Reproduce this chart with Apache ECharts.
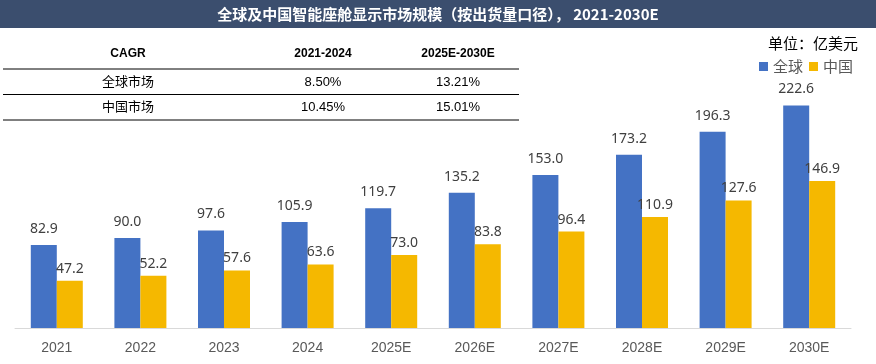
<!DOCTYPE html>
<html><head><meta charset="utf-8">
<script src="https://cdn.jsdelivr.net/npm/echarts@6/dist/echarts.min.js"></script>
<style>html,body{margin:0;padding:0;background:#fff}#c{width:876px;height:364px}</style>
</head><body><div id="c"></div>
<script>
const categories = ['2021','2022','2023','2024','2025E','2026E','2027E','2028E','2029E','2030E'];
const globalValues = [82.9, 90.0, 97.6, 105.9, 119.7, 135.2, 153.0, 173.2, 196.3, 222.6];
const chinaValues = [47.2, 52.2, 57.6, 63.6, 73.0, 83.8, 96.4, 110.9, 127.6, 146.9];
const seriesNames = ['全球', '中国'];
const titleText = '全球及中国智能座舱显示市场规模（按出货量口径）， 2021-2030E';
const unitText = '单位：亿美元';
const tableHeader = ['CAGR', '2021-2024', '2025E-2030E'];
const tableRows = [
  ['全球市场', '8.50%', '13.21%'],
  ['中国市场', '10.45%', '15.01%']
];

const CJK = '"Noto Sans CJK SC", "Noto Sans", sans-serif';
const TBL = '"Liberation Sans", "Noto Sans CJK SC", sans-serif';
const chart = echarts.init(document.getElementById('c'));

const colX = [128, 323, 458];
const rowY = [54, 82, 107];
const graphics = [
  {type:'rect', left:0, top:0, shape:{width:876, height:28}, style:{fill:'#3b4e6e'}},
  {type:'text', x:438, y:14, style:{text:titleText, fill:'#fff', font:'bold 15px ' + CJK, textAlign:'center', textVerticalAlign:'middle'}},
];
[69, 94.5, 120].forEach(y => graphics.push({type:'line', shape:{x1:3, y1:y, x2:519, y2:y}, style:{stroke:'#000', lineWidth:1}}));
tableHeader.forEach((t, i) => graphics.push({type:'text', x:colX[i], y:rowY[0], style:{text:t, fill:'#000', font:'bold 12px "Liberation Sans", Arial, sans-serif', textAlign:'center', textVerticalAlign:'middle'}}));
tableRows.forEach((row, r) => row.forEach((t, i) => graphics.push({type:'text', x:colX[i], y:rowY[r+1], style:{text:t, fill:'#000', font:'13px ' + TBL, textAlign:'center', textVerticalAlign:'middle'}})));
graphics.push({type:'text', x:858, y:43, style:{text:unitText, fill:'#000', font:'15px ' + CJK, textAlign:'right', textVerticalAlign:'middle'}});

chart.setOption({
  animation:false,
  graphic: graphics,
  legend: {
    data: seriesNames, right: 18, top: 54, itemWidth: 9, itemHeight: 9, itemGap: 6,
    icon: 'rect', textStyle: {color:'#595959', fontSize:15, fontFamily: CJK}
  },
  grid: {left: 15, width: 836, top: 28, height: 300, containLabel: false},
  xAxis: {
    type:'category', data: categories,
    axisLine: {lineStyle:{color:'#d9d9d9'}}, axisTick:{show:false},
    axisLabel: {color:'#595959', fontSize:14, margin:13, fontFamily:'"Liberation Sans Narrow", "Liberation Sans", sans-serif'}
  },
  yAxis: {type:'value', min:0, max:300, show:false, splitLine:{show:false}},
  series: [
    {name: seriesNames[0], type:'bar', data: globalValues, barWidth:26, barGap:'0%', itemStyle:{color:'#4472c4'},
     label:{show:true, position:'top', distance:9, color:'#404040', fontSize:14, fontFamily:'"Noto Sans", sans-serif', formatter: p => p.value.toFixed(1)}},
    {name: seriesNames[1], type:'bar', data: chinaValues, barWidth:26, itemStyle:{color:'#f5b800'},
     label:{show:true, position:'top', distance:5, color:'#404040', fontSize:14, fontFamily:'"Noto Sans", sans-serif', formatter: p => p.value.toFixed(1)}}
  ]
});
</script></body></html>
